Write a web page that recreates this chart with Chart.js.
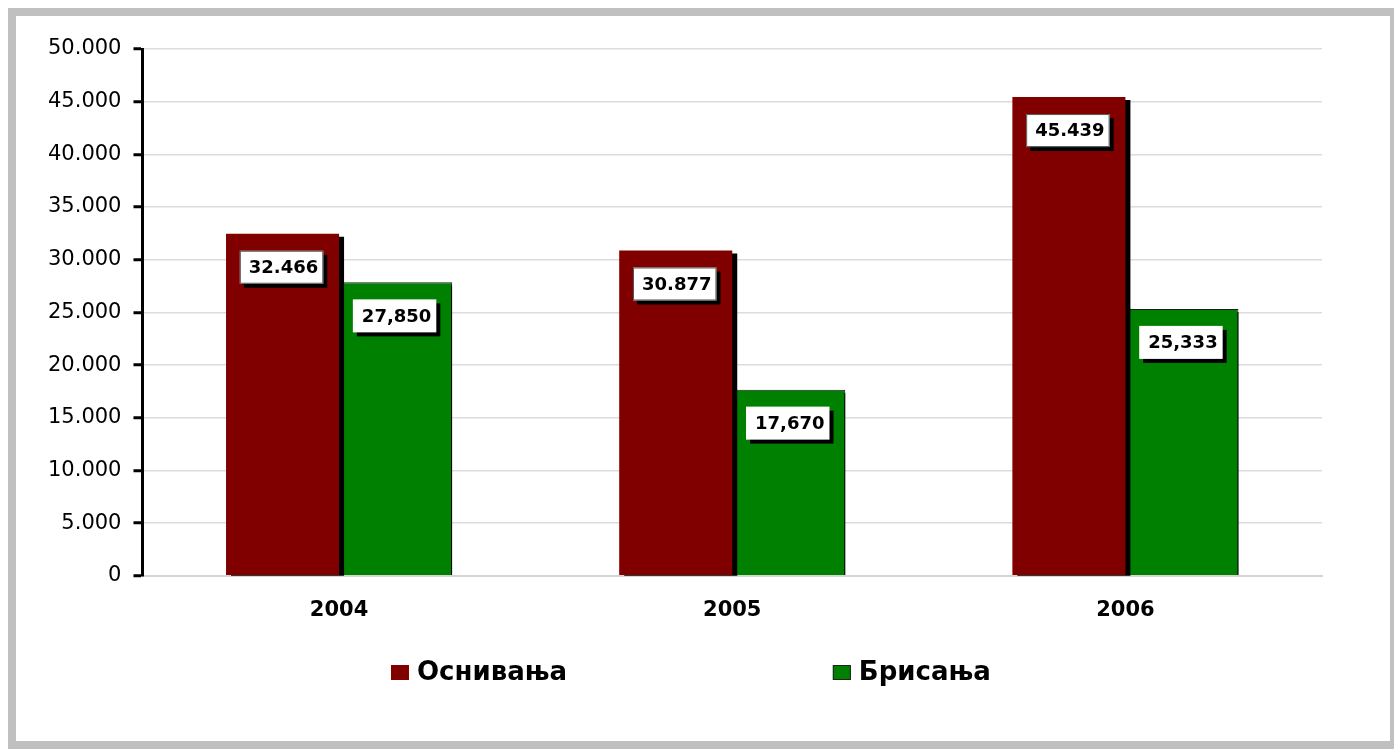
<!DOCTYPE html>
<html>
<head>
<meta charset="utf-8">
<script src="https://cdn.jsdelivr.net/npm/chart.js@4/dist/chart.umd.min.js"></script>
<style>
    html, body { margin: 0; padding: 0; background: #ffffff; overflow: hidden; }
    #frame {
        position: absolute; left: 8px; top: 8px;
        width: 1374px; height: 725px;
        border: 8px solid #c0c0c0; background: #ffffff;
    }
    #chart { display: block; }
</style>
</head>
<body>
<div id="frame"><canvas id="chart" width="1374" height="725"></canvas></div>
<script>
// data
var years = ["2004", "2005", "2006"];
var osnivanja = [32466, 30877, 45439];
var brisanja = [27850, 17670, 25333];
var osnivanjaLabels = ["32.466", "30.877", "45.439"];
var brisanjaLabels = ["27,850", "17,670", "25,333"];
var seriesNames = ["Оснивања", "Брисања"];

var fontFamily = "'DejaVu Sans', Arial, sans-serif";

function formatThousands(v) {
    return String(v).replace(/\B(?=(\d{3})+(?!\d))/g, ".");
}

// black shadow behind the bars
var barShadow = {
    id: 'barShadow',
    beforeDatasetDraw: function(chart) {
        var ctx = chart.ctx;
        ctx.save();
        ctx.shadowColor = "#000000";
        ctx.shadowOffsetX = 5;
        ctx.shadowOffsetY = 3;
        ctx.shadowBlur = 0;
    },
    afterDatasetDraw: function(chart) {
        chart.ctx.restore();
    }
};

// white boxed value labels near the top of each bar
var valueBoxes = {
    id: 'valueBoxes',
    afterDatasetsDraw: function(chart) {
        var ctx = chart.ctx;
        ctx.save();
        ctx.font = "bold 18px " + fontFamily;
        ctx.textAlign = "center";
        ctx.textBaseline = "middle";
        chart.data.datasets.forEach(function(ds, i) {
            var meta = chart.getDatasetMeta(i);
            meta.data.forEach(function(bar, j) {
                var text = ds.valueLabels[j];
                var w = ctx.measureText(text).width + 14;
                var h = 33;
                var cx = bar.x - 1;
                var top = bar.y + 17;
                ctx.fillStyle = "#000000";
                ctx.fillRect(cx - w / 2 + 4, top + 4, w, h);
                ctx.fillStyle = "#ffffff";
                ctx.fillRect(cx - w / 2, top, w, h);
                if (i === 0) {
                    ctx.strokeStyle = "#555555";
                    ctx.lineWidth = 1;
                    ctx.strokeRect(cx - w / 2 + 0.5, top + 0.5, w - 1, h - 1);
                }
                ctx.fillStyle = "#000000";
                ctx.fillText(text, cx + 2, top + h / 2 + 1);
            });
        });
        ctx.restore();
    }
};

// legend spread out under the chart
var spreadLegend = {
    id: 'spreadLegend',
    afterDraw: function(chart) {
        var ctx = chart.ctx;
        var centers = [0.337, 0.652];
        var y = chart.height - 69;
        ctx.save();
        ctx.font = "bold 26px " + fontFamily;
        ctx.textBaseline = "middle";
        chart.data.datasets.forEach(function(ds, i) {
            var tw = ctx.measureText(ds.label).width;
            var total = 18 + 8 + tw;
            var x0 = chart.width * centers[i] - total / 2;
            ctx.fillStyle = ds.backgroundColor;
            ctx.fillRect(x0, y - 7, 18, 15);
            if (i === 1) {
                ctx.strokeStyle = "#222222";
                ctx.lineWidth = 1;
                ctx.strokeRect(x0 + 0.5, y - 6.5, 17, 14);
            }
            ctx.fillStyle = "#000000";
            ctx.fillText(ds.label, x0 + 26, y + 1);
        });
        ctx.restore();
    }
};

var ctx = document.getElementById("chart").getContext("2d");

var chart = new Chart(ctx, {
    type: 'bar',
    data: {
        labels: years,
        datasets: [
            {
                label: seriesNames[0],
                data: osnivanja,
                valueLabels: osnivanjaLabels,
                backgroundColor: "#800000",
                borderWidth: 0,
                clip: { left: false, top: false, right: false, bottom: 0 }
            },
            {
                label: seriesNames[1],
                data: brisanja,
                valueLabels: brisanjaLabels,
                backgroundColor: "#008000",
                borderColor: "#1a1a1a",
                borderWidth: 1,
                clip: { left: false, top: false, right: false, bottom: 0 }
            }
        ]
    },
    options: {
        responsive: false,
        animation: false,
        categoryPercentage: 0.575,
        barPercentage: 1.0,
        layout: {
            padding: { left: 20, right: 68, top: 33, bottom: 96 }
        },
        plugins: {
            legend: { display: false },
            tooltip: { enabled: false }
        },
        scales: {
            x: {
                grid: { display: false, drawTicks: false },
                border: { color: "#d4d4d4", width: 2 },
                ticks: {
                    color: "#000000",
                    padding: 22,
                    font: { family: fontFamily, size: 21, weight: "bold" }
                }
            },
            y: {
                min: 0,
                max: 50000,
                grid: {
                    color: "#dcdcdc",
                    lineWidth: 1.5,
                    tickColor: "#000000",
                    tickWidth: 3,
                    tickLength: 9
                },
                border: { color: "#000000", width: 3 },
                ticks: {
                    stepSize: 5000,
                    color: "#000000",
                    padding: 12,
                    font: { family: fontFamily, size: 21 },
                    callback: function(v) { return formatThousands(v); }
                }
            }
        }
    },
    plugins: [barShadow, valueBoxes, spreadLegend]
});
</script>
</body>
</html>
